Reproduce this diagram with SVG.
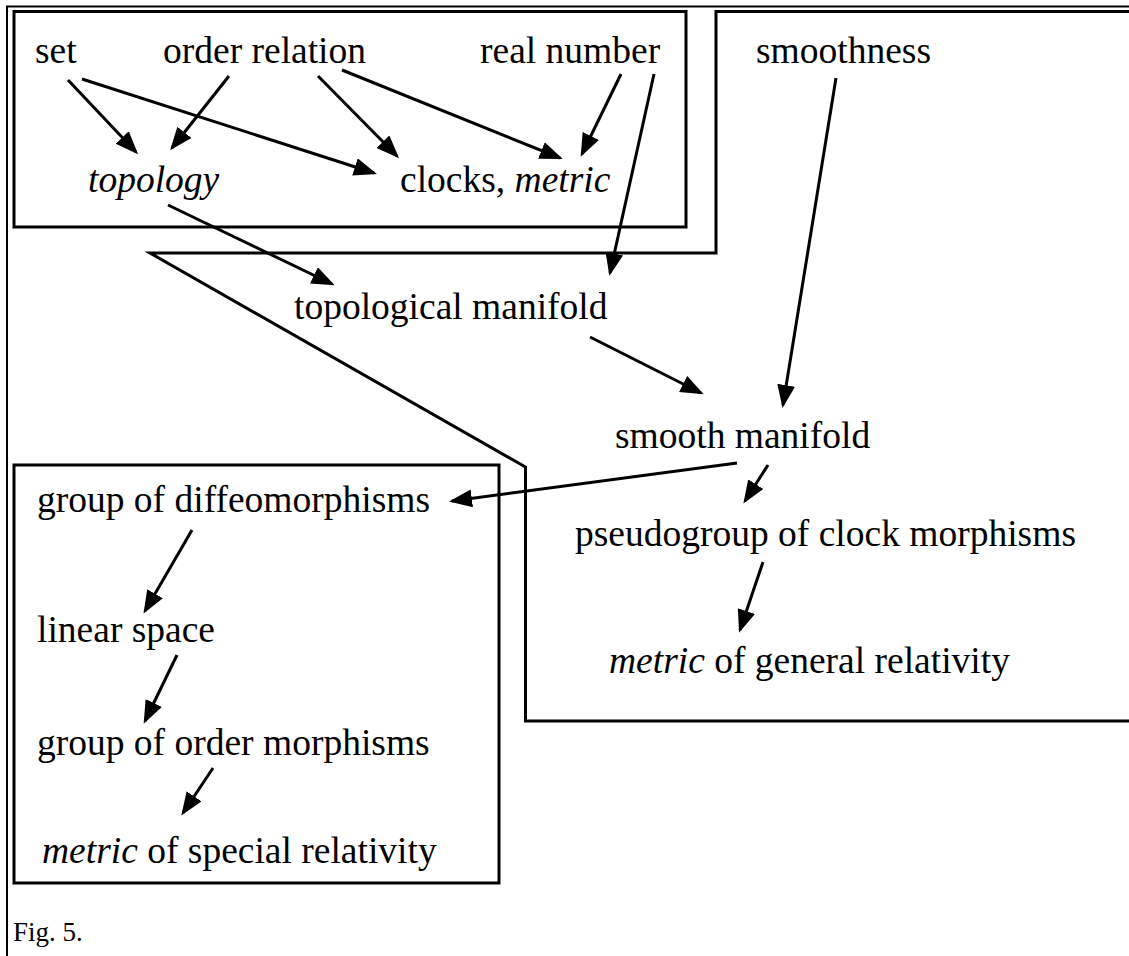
<svg xmlns="http://www.w3.org/2000/svg" width="1129" height="956" viewBox="0 0 1129 956">
<style>
text{font-family:"Liberation Serif","Times New Roman",serif;font-size:37.5px;fill:#000}
.i{font-style:italic}
.cap{font-size:27px}
.box{fill:none;stroke:#000;stroke-width:3}
.frame{fill:none;stroke:#000;stroke-width:2}
.c line{stroke:#000;stroke-width:3;marker-end:url(#ah)}
</style>
<defs>
<marker id="ah" markerUnits="userSpaceOnUse" markerWidth="26" markerHeight="20" refX="20" refY="9" orient="auto">
<path d="M0,0 L23,9 L0,18 Z" fill="#000"/>
</marker>
</defs>
<rect width="1129" height="956" fill="#fff"/>
<path class="frame" d="M1129,6.5 H7 V956"/>
<rect id="region-basics" class="box" x="14" y="11.5" width="672" height="215.5"/>
<path id="region-manifold" class="box" d="M1129,11.5 H716 V253 H150 L525.5,467 V721 H1129"/>
<rect id="region-special" class="box" x="14" y="465" width="485" height="418"/>

<g id="n-set"><text x="35" y="63">set</text></g>
<g id="n-order"><text x="163" y="63">order relation</text></g>
<g id="n-real"><text x="480" y="63">real number</text></g>
<g id="n-smoothness"><text x="756" y="63">smoothness</text></g>
<g id="n-topology"><text class="i" x="88" y="192">topology</text></g>
<g id="n-clocks"><text x="400" y="192">clocks, <tspan class="i">metric</tspan></text></g>
<g id="n-topman"><text x="294" y="319">topological manifold</text></g>
<g id="n-smoothman"><text x="615" y="448">smooth manifold</text></g>
<g id="n-diffeo"><text x="37" y="512">group of diffeomorphisms</text></g>
<g id="n-pseudo"><text x="575" y="546">pseudogroup of clock morphisms</text></g>
<g id="n-linear"><text x="37" y="642">linear space</text></g>
<g id="n-metricgr"><text x="609" y="673"><tspan class="i">metric</tspan> of general relativity</text></g>
<g id="n-ordermorph"><text x="37" y="755">group of order morphisms</text></g>
<g id="n-metricsr"><text x="42" y="863"><tspan class="i">metric</tspan> of special relativity</text></g>
<g id="caption"><text class="cap" x="13" y="941">Fig. 5.</text></g>

<g id="connectors" class="c">
<line x1="68" y1="80" x2="136" y2="152"/>
<line x1="82" y1="79" x2="374" y2="173"/>
<line x1="229" y1="76" x2="172" y2="148"/>
<line x1="318" y1="76" x2="397" y2="156"/>
<line x1="342" y1="70" x2="560" y2="158"/>
<line x1="621" y1="74" x2="582" y2="154"/>
<line x1="654" y1="74" x2="610" y2="273"/>
<line x1="168" y1="205" x2="332" y2="284"/>
<line x1="836" y1="78" x2="783" y2="405"/>
<line x1="590" y1="337" x2="701" y2="393"/>
<line x1="737" y1="463" x2="452" y2="501"/>
<line x1="768" y1="465" x2="745" y2="501"/>
<line x1="763" y1="562" x2="740" y2="630"/>
<line x1="192" y1="530" x2="145" y2="611"/>
<line x1="177" y1="655" x2="145" y2="721"/>
<line x1="213" y1="768" x2="183" y2="813"/>
</g>
</svg>
